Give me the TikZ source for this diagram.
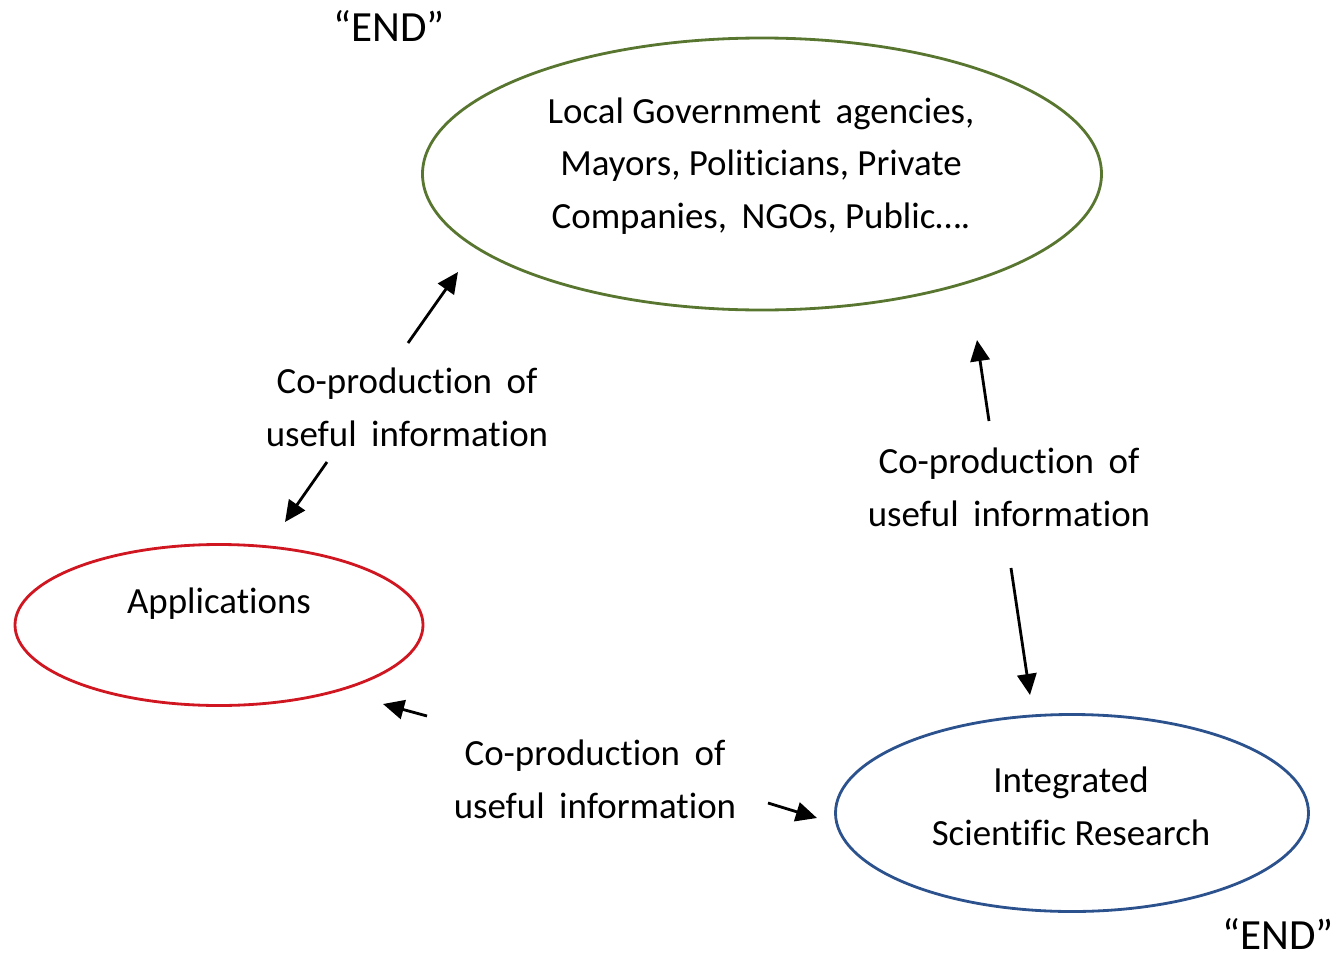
\documentclass[tikz,border=0pt]{standalone}
\usepackage{fontspec}
\setmainfont{Carlito}[Ligatures={TeX,NoCommon}]
\usetikzlibrary{arrows.meta,shapes.geometric}

\definecolor{govgreen}{RGB}{88,118,48}
\definecolor{appred}{RGB}{208,22,32}
\definecolor{sciblue}{RGB}{44,82,142}

\begin{document}
\begin{tikzpicture}[
    x=0.2mm, y=-0.2mm,
    font=\fontsize{21}{30}\selectfont,
    oval/.style={ellipse, draw, line width=1.6pt, inner sep=0pt},
    txt/.style={align=center, inner sep=0pt},
    endmark/.style={inner sep=0pt, font=\fontsize{24.5}{30}\selectfont},
    flow/.style={-{Triangle[length=12pt, width=11pt]}, line width=1.6pt}
  ]
  \useasboundingbox (0,0) rectangle (1342,958);

  % Ellipses
  \node[oval, govgreen, minimum width=13.58cm, minimum height=5.44cm] (gov) at (762,174) {};
  \node[oval, appred, minimum width=8.16cm, minimum height=3.22cm] (app) at (219,625) {};
  \node[oval, sciblue, minimum width=9.46cm, minimum height=3.94cm] (sci) at (1072,813) {};

  % Texts in the ellipses
  \node[txt] (govtxt) at (761,166) {Local Government\, agencies,\\Mayors, Politicians, Private\\Companies,\, NGOs, Public\ldots.};
  \node[txt] (apptxt) at (219,604) {Applications};
  \node[txt] (scitxt) at (1071,806) {Integrated\\Scientific Research};

  % Labels on the links
  \node[txt] (lab1) at (407,407) {Co-production\, of\\useful\, information};
  \node[txt] (lab2) at (1009,487) {Co-production\, of\\useful\, information};
  \node[txt] (lab3) at (595,779) {Co-production\, of\\useful\, information};

  \node[endmark] (endtop) at (389,26) {“END”};
  \node[endmark] (endbot) at (1278,934) {“END”};

  % Arrow ends
  \coordinate (a1) at (408,343);  \coordinate (b1) at (458,272);
  \coordinate (a2) at (327,462);  \coordinate (b2) at (285,522);
  \coordinate (a3) at (427,716);  \coordinate (b3) at (383,704);
  \coordinate (a4) at (768,803);  \coordinate (b4) at (817,818);
  \coordinate (a5) at (989,421);  \coordinate (b5) at (977,340);
  \coordinate (a6) at (1011,568); \coordinate (b6) at (1030,695);

  % Arrows
  \draw[flow] (a1) -- (b1);
  \draw[flow] (a2) -- (b2);
  \draw[flow] (a3) -- (b3);
  \draw[flow] (a4) -- (b4);
  \draw[flow] (a5) -- (b5);
  \draw[flow] (a6) -- (b6);

\end{tikzpicture}
\end{document}
